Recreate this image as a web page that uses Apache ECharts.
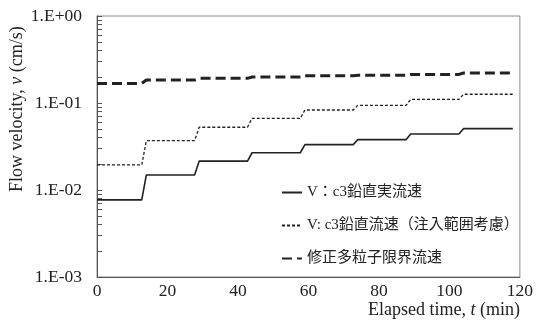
<!DOCTYPE html>
<html>
<head>
<meta charset="utf-8">
<script src="https://cdn.jsdelivr.net/npm/echarts@6/dist/echarts.min.js"></script>
<style>
  html, body { margin: 0; padding: 0; background: #fff; }
  #chart { width: 536px; height: 329px; }
</style>
</head>
<body>
<div id="chart"></div>
<script>
// Elapsed time (min): each pair marks the end of a level and the top of the next step
const time = [0, 12.7, 14, 27.7, 29, 42.7, 44, 57.7, 59, 72.7, 74, 87.7, 89, 102.7, 104, 118];

// V : c3 vertical real flow velocity (cm/s)
const realVelocity = [0.0077, 0.0077, 0.0149, 0.0149, 0.0215, 0.0215, 0.0268, 0.0268,
                      0.0332, 0.0332, 0.0379, 0.0379, 0.044, 0.044, 0.0507, 0.0507];

// V : c3 vertical flow velocity accounting for injection range (cm/s)
const injectVelocity = [0.0194, 0.0194, 0.0369, 0.0369, 0.0526, 0.0526, 0.0667, 0.0667,
                        0.0831, 0.0831, 0.094, 0.094, 0.110, 0.110, 0.126, 0.126];

// Modified multi-particle critical velocity (cm/s)
const criticalVelocity = [0.168, 0.168, 0.184, 0.184, 0.192, 0.192, 0.199, 0.199,
                          0.206, 0.206, 0.208, 0.208, 0.213, 0.213, 0.221, 0.221];

const seriesNames = ['V：c3鉛直実流速', 'V: c3鉛直流速（注入範囲考慮）', '修正多粒子限界流速'];
const xTicks = [0, 20, 40, 60, 80, 100, 120];
const yDecades = [0.001, 0.01, 0.1, 1];
const yLabels = ['1.E-03', '1.E-02', '1.E-01', '1.E+00'];

// minor tick positions 2..9 within each decade
const minorTicks = [];
for (let d = 0; d < yDecades.length - 1; d++) {
  for (let k = 1; k <= 9; k++) minorTicks.push(+(yDecades[d] * k).toPrecision(3));
}
minorTicks.push(1);

const pairs = (ys) => time.map((t, i) => [t, ys[i]]);

const serif = '"Liberation Serif", "Times New Roman", serif';
const legendFont = '"Liberation Serif", "Noto Sans CJK JP", serif';
const ink = '#222';

const chart = echarts.init(document.getElementById('chart'), null, { renderer: 'canvas' });

chart.setOption({
  animation: false,
  backgroundColor: '#fff',
  grid: {
    left: 97, right: 15, top: 16, bottom: 52,
    show: true, borderColor: '#8a8a8a', borderWidth: 1
  },
  xAxis: {
    type: 'value', min: 0, max: 120, interval: 20,
    axisLine: { show: true, lineStyle: { color: '#555', width: 1 } },
    axisTick: { show: false },
    splitLine: { show: false },
    axisLabel: {
      color: ink, fontFamily: serif, fontSize: 17.5, margin: 5,
      customValues: xTicks
    }
  },
  yAxis: [{
    type: 'log', logBase: 10, min: 0.001, max: 1,
    axisLine: { show: true, onZero: false, lineStyle: { color: '#555', width: 1 } },
    axisTick: { show: true, inside: true, length: 5, lineStyle: { color: '#555' },
                customValues: minorTicks },
    splitLine: { show: false },
    axisLabel: {
      color: ink, fontFamily: serif, fontSize: 17.5, margin: 15,
      customValues: yDecades,
      formatter: (v) => yLabels[yDecades.findIndex(d => Math.abs(Math.log10(d) - Math.log10(v)) < 1e-6)] || ''
    }
  }],
  legend: {
    orient: 'vertical',
    left: 276, top: 180,
    itemWidth: 20, itemHeight: 12, itemGap: 18,
    itemStyle: { opacity: 0 },
    textStyle: { color: ink, fontFamily: legendFont, fontSize: 15 },
    data: seriesNames
  },
  graphic: [
    {
      type: 'text', left: 368, top: 301,
      style: {
        text: '{n|Elapsed time, }{i|t}{n| (min)}',
        rich: {
          n: { fontFamily: serif, fontSize: 18, fill: ink },
          i: { fontFamily: serif, fontSize: 18, fontStyle: 'italic', fill: ink }
        }
      }
    },
    {
      type: 'text', x: 8, y: 192, rotation: Math.PI / 2,
      style: {
        text: '{n|Flow velocity, }{i|v}{n| (cm/s)}',
        rich: {
          n: { fontFamily: serif, fontSize: 18, fill: ink },
          i: { fontFamily: serif, fontSize: 18, fontStyle: 'italic', fill: ink }
        }
      }
    }
  ],
  series: [
    {
      name: seriesNames[0], type: 'line', data: pairs(realVelocity),
      symbol: 'none', lineStyle: { color: ink, width: 1.6, type: 'solid' },
      itemStyle: { color: ink }
    },
    {
      name: seriesNames[1], type: 'line', data: pairs(injectVelocity),
      symbol: 'none', lineStyle: { color: ink, width: 1.3, type: [3, 2] },
      itemStyle: { color: ink }
    },
    {
      name: seriesNames[2], type: 'line', data: pairs(criticalVelocity),
      symbol: 'none', lineStyle: { color: ink, width: 3, type: [10, 5] },
      itemStyle: { color: ink }
    }
  ]
});
</script>
</body>
</html>
